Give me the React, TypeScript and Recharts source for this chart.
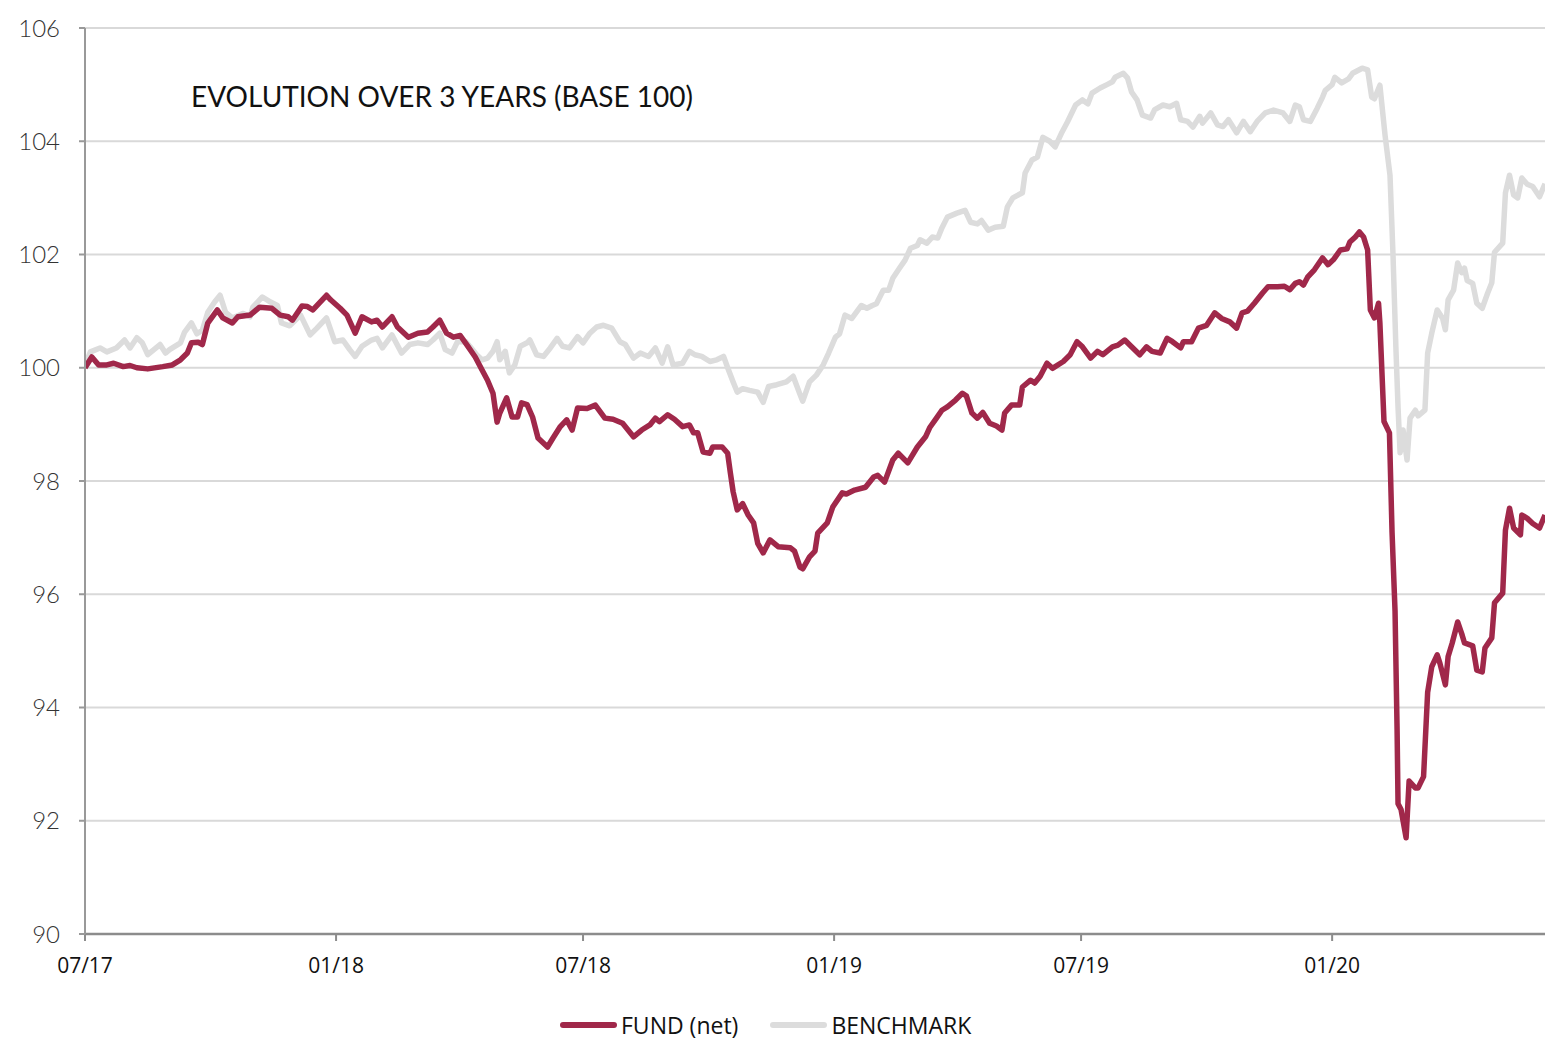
import React from 'react';
import { LineChart, Line, XAxis, YAxis, CartesianGrid, Legend } from 'recharts';

// x values: days since 2017-07-01
const xTickDays = [0, 184, 365, 549, 730, 914];
const xTickLabels = ['07/17', '01/18', '07/18', '01/19', '07/19', '01/20'];
const yTicks = [90, 92, 94, 96, 98, 100, 102, 104, 106];

const fundDays = [0,5,10,16,21,28,33,38,46,57,64,70,75,78,83,86,90,97,101,108,112,121,128,137,143,149,152,159,163,167,177,180,187,192,198,203,210,214,218,225,229,237,244,251,255,260,265,270,275,280,286,291,295,299,302,304,309,313,317,320,324,328,332,339,343,348,353,357,361,368,374,381,387,394,402,408,414,418,421,427,432,438,443,446,449,453,458,460,467,471,473,475,478,482,486,490,493,497,502,508,517,520,524,526,531,535,537,544,548,555,558,564,572,578,581,586,592,596,603,610,616,619,624,628,632,638,643,646,650,654,658,663,668,672,674,679,685,687,693,696,700,705,709,717,722,727,731,737,742,746,753,757,762,767,773,778,782,788,793,797,803,805,811,816,822,828,833,839,844,848,852,857,863,867,874,879,883,887,890,893,896,901,907,911,915,920,925,927,931,934,937,940,942,945,948,949,952,956,957.9,960.1,961.6,962.3,964.5,968.2,970.4,975,977,981,984,987,991,993,997,999,1002,1006,1009,1011,1017,1020,1024,1026,1031,1033,1039,1041,1044,1047,1052,1053,1057,1061,1066,1070];
const fundValues = [100.0,100.19,100.05,100.05,100.08,100.02,100.04,100.0,99.98,100.02,100.05,100.14,100.26,100.44,100.45,100.41,100.79,101.02,100.88,100.79,100.9,100.93,101.07,101.05,100.93,100.9,100.84,101.09,101.08,101.02,101.28,101.2,101.05,100.93,100.61,100.9,100.81,100.84,100.72,100.9,100.72,100.54,100.61,100.63,100.72,100.84,100.61,100.54,100.57,100.4,100.19,99.96,99.78,99.55,99.04,99.2,99.47,99.13,99.13,99.38,99.35,99.13,98.76,98.6,98.76,98.95,99.08,98.9,99.29,99.28,99.34,99.11,99.09,99.02,98.78,98.9,98.99,99.11,99.05,99.17,99.09,98.96,98.99,98.85,98.85,98.51,98.49,98.6,98.6,98.49,98.14,97.81,97.49,97.6,97.4,97.26,96.9,96.73,96.96,96.84,96.82,96.76,96.48,96.45,96.66,96.76,97.08,97.26,97.54,97.79,97.77,97.84,97.89,98.07,98.1,97.98,98.37,98.49,98.32,98.6,98.78,98.94,99.11,99.25,99.31,99.43,99.55,99.5,99.2,99.11,99.21,99.02,98.97,98.9,99.2,99.34,99.34,99.66,99.78,99.73,99.85,100.08,99.99,100.11,100.23,100.46,100.37,100.17,100.29,100.23,100.37,100.4,100.49,100.37,100.23,100.37,100.29,100.26,100.52,100.46,100.35,100.46,100.46,100.7,100.75,100.97,100.87,100.81,100.7,100.97,101.0,101.14,101.32,101.43,101.43,101.44,101.38,101.49,101.52,101.46,101.6,101.73,101.94,101.82,101.91,102.08,102.1,102.22,102.31,102.4,102.31,102.08,101.02,100.88,101.14,100.79,99.05,98.85,97.1,95.7,93.6,92.3,92.2,91.7,92.7,92.58,92.58,92.78,94.27,94.72,94.93,94.78,94.4,94.9,95.14,95.51,95.3,95.14,95.09,94.66,94.63,95.05,95.23,95.85,96.02,97.13,97.52,97.17,97.05,97.4,97.34,97.25,97.17,97.4];

const benchDays = [0,4,11,16,23,29,33,38,42,46,55,59,62,70,73,78,82,86,90,95,99,103,108,116,121,123,130,136,141,144,150,158,165,170,177,183,189,194,198,203,210,214,218,225,232,238,244,251,255,260,264,269,273,279,282,287,291,295,299,302,304,308,311,315,319,324,326,331,336,341,346,350,355,361,365,370,375,380,386,392,396,402,407,413,418,423,427,431,438,443,447,452,458,463,468,471,475,478,482,487,493,497,501,507,514,519,524,526,531,536,541,545,550,553,557,562,569,573,577,580,585,589,592,597,601,605,610,612,617,621,625,628,632,639,645,649,654,657,662,667,673,676,680,687,689,694,698,702,707,711,716,720,726,731,735,738,744,749,753,755,761,764,767,771,775,781,784,790,795,800,803,808,812,817,819,825,830,834,838,844,849,854,859,865,871,878,883,887,890,893,898,903,907,909,914,916,921,926,929,936,940,943,945,949,952.8,956.4,958.6,960.8,962.3,963.8,966,968.9,971.1,975,977,982,984,987,991,995,997,999,1003,1006,1009,1011,1013,1017,1020,1024,1028,1031,1033,1039,1041,1044,1047,1050,1053,1057,1061,1066,1070];
const benchValues = [100.05,100.28,100.35,100.28,100.35,100.49,100.35,100.53,100.44,100.23,100.41,100.26,100.32,100.44,100.63,100.79,100.6,100.66,100.98,101.16,101.28,100.98,100.88,100.96,100.9,101.07,101.25,101.16,101.1,100.79,100.74,100.93,100.58,100.7,100.88,100.46,100.49,100.32,100.2,100.38,100.49,100.52,100.35,100.58,100.26,100.41,100.44,100.41,100.49,100.61,100.32,100.26,100.46,100.46,100.38,100.23,100.14,100.17,100.29,100.46,100.14,100.29,99.91,100.05,100.38,100.44,100.49,100.23,100.2,100.35,100.52,100.38,100.35,100.55,100.44,100.61,100.72,100.75,100.7,100.46,100.41,100.17,100.26,100.2,100.35,100.08,100.37,100.05,100.08,100.29,100.23,100.2,100.11,100.14,100.2,100.0,99.75,99.57,99.63,99.6,99.57,99.39,99.67,99.7,99.75,99.85,99.53,99.41,99.75,99.87,100.05,100.26,100.54,100.6,100.93,100.87,101.1,101.05,101.1,101.13,101.37,101.37,101.58,101.76,101.9,102.11,102.16,102.26,102.2,102.31,102.29,102.47,102.66,102.73,102.78,102.57,102.54,102.6,102.43,102.48,102.5,102.84,103.0,103.09,103.44,103.67,103.72,104.07,104.0,103.9,104.16,104.34,104.64,104.73,104.66,104.85,104.94,105.0,105.05,105.13,105.2,105.12,104.87,104.73,104.46,104.41,104.56,104.64,104.61,104.67,104.38,104.35,104.25,104.44,104.32,104.5,104.29,104.26,104.38,104.15,104.35,104.17,104.35,104.5,104.55,104.5,104.35,104.64,104.61,104.38,104.35,104.58,104.78,104.9,105.0,105.13,105.03,105.1,105.2,105.29,105.26,104.78,104.75,104.99,104.1,103.4,102.0,100.3,99.3,98.5,98.9,98.37,99.11,99.25,99.15,99.25,100.26,100.61,101.02,100.87,100.67,101.2,101.37,101.85,101.68,101.76,101.54,101.49,101.14,101.05,101.32,101.5,102.04,102.2,103.09,103.4,103.05,103.0,103.35,103.24,103.2,103.02,103.25];

const FUND_COLOR = '#a0284a';
const BENCH_COLOR = '#dcdcdc';
const legendItems = [
  { name: 'FUND (net)', color: FUND_COLOR },
  { name: 'BENCHMARK', color: BENCH_COLOR },
];

const fundData = fundDays.map((t, i) => ({ t, v: fundValues[i] }));
const benchData = benchDays.map((t, i) => ({ t, v: benchValues[i] }));

const renderLegend = () => (
  <div
    style={{
      display: 'flex',
      alignItems: 'center',
      height: 30,
      paddingTop: 0,
      boxSizing: 'border-box',
      paddingLeft: 560,
      fontFamily: '"Open Sans", sans-serif',
      fontSize: 23,
      lineHeight: '23px',
      color: '#111',
    }}
  >
    {legendItems.map((it, i) => (
      <div key={it.name} style={{ display: 'flex', alignItems: 'center', marginLeft: i === 0 ? 0 : 32 }}>
        <span style={{ display: 'inline-block', width: 57, height: 6, borderRadius: 3, background: it.color }} />
        <span style={{ marginLeft: 4 }}>{it.name}</span>
      </div>
    ))}
  </div>
);

export default function App() {
  return (
    <div style={{ position: 'fixed', left: 0, top: 0, width: 1559, height: 1040, overflow: 'hidden', background: '#fff' }}>
      <LineChart width={1559} height={1040} margin={{ top: 28, right: 14, left: 0, bottom: 0 }}>
        <CartesianGrid horizontal vertical={false} stroke="#d9d9d9" strokeWidth={2} />
        <XAxis
          dataKey="t"
          type="number"
          domain={[0, 1070]}
          ticks={xTickDays}
          tickFormatter={(v: number) => xTickLabels[xTickDays.indexOf(v)] ?? ''}
          height={76}
          axisLine={{ stroke: '#8c8c8c', strokeWidth: 2.5 }}
          tickLine={{ stroke: '#8c8c8c', strokeWidth: 2 }}
          tickSize={7}
          tickMargin={17}
          tick={{ fill: '#111', fontSize: 21, fontFamily: '"Open Sans", sans-serif' }}
          allowDataOverflow
        />
        <YAxis
          type="number"
          domain={[90, 106]}
          ticks={yTicks}
          width={85}
          axisLine={{ stroke: '#999', strokeWidth: 2 }}
          tickLine={{ stroke: '#999', strokeWidth: 2 }}
          tickSize={6}
          tickMargin={19}
          tick={{ fill: '#333', fontSize: 24, fontFamily: 'Lato, sans-serif', fontWeight: 300 }}
          allowDataOverflow
        />
        <Legend verticalAlign="bottom" align="left" content={renderLegend} wrapperStyle={{ left: 0, width: 1559 }} />
        <Line
          data={benchData}
          dataKey="v"
          name="BENCHMARK"
          type="linear"
          stroke={BENCH_COLOR}
          strokeWidth={5.5}
          dot={false}
          strokeLinejoin="round"
          isAnimationActive={false}
        />
        <Line
          data={fundData}
          dataKey="v"
          name="FUND (net)"
          type="linear"
          stroke={FUND_COLOR}
          strokeWidth={5.5}
          dot={false}
          strokeLinejoin="round"
          isAnimationActive={false}
        />
      </LineChart>
      <div
        style={{
          position: 'absolute',
          left: 191,
          top: 80,
          fontFamily: 'Lato, sans-serif',
          fontSize: 28,
          lineHeight: '32px',
          color: '#111',
          whiteSpace: 'nowrap',
        }}
      >
        EVOLUTION OVER 3 YEARS (BASE 100)
      </div>
    </div>
  );
}
